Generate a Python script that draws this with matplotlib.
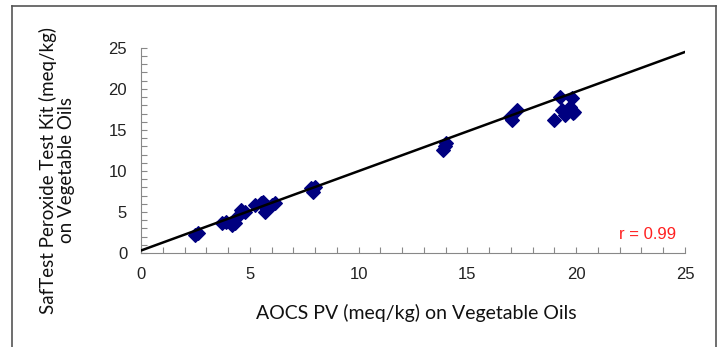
import numpy as np
import matplotlib.pyplot as plt
from matplotlib.lines import Line2D

# AOCS PV vs SafTest readings
aocs_pv = [2.48, 2.6, 3.7, 3.9, 4.2, 4.3, 4.4, 4.6, 4.8,
           5.25, 5.5, 5.6, 5.7, 5.85, 6.0, 6.15,
           7.8, 7.9, 8.0,
           13.9, 14.0, 13.95,
           16.96, 17.05, 17.3,
           19.0, 19.26, 19.35, 19.5, 19.7, 19.8, 19.85, 19.9]
saftest = [2.2, 2.4, 3.6, 3.8, 3.4, 3.7, 4.4, 5.2, 5.0,
           5.8, 6.1, 6.2, 5.0, 5.6, 5.9, 6.1,
           7.9, 7.4, 8.0,
           12.6, 13.4, 13.0,
           16.6, 16.2, 17.4,
           16.2, 19.0, 17.4, 16.8, 17.8, 18.9, 17.1, 17.2]

fit_slope = 0.968
fit_intercept = 0.3
r_value = 0.99

fig = plt.figure(figsize=(7.21, 3.47), dpi=100)
ax = fig.add_axes([0.1956, 0.271, 0.7544, 0.591])

xs = np.array([0, 25])
ax.plot(xs, fit_intercept + fit_slope * xs, color='black', lw=1.8, zorder=3)
ax.scatter(aocs_pv, saftest, marker='D', s=48, color='#000080', zorder=2)

ax.set_xlim(0, 25)
ax.set_ylim(0, 25)
ax.set_xticks([0, 5, 10, 15, 20, 25])
ax.set_yticks([0, 5, 10, 15, 20, 25])
ax.set_xticks(np.arange(0, 26, 1), minor=True)
ax.set_yticks(np.arange(0, 26, 1), minor=True)
for s in ['top', 'right']:
    ax.spines[s].set_visible(False)
for s in ['left', 'bottom']:
    ax.spines[s].set_color('#888888')
ax.tick_params(which='both', direction='in', color='#888888', length=4, width=0.8)
ax.tick_params(which='major', labelsize=12, pad=10, labelcolor='#222222')
for lab in ax.get_xticklabels() + ax.get_yticklabels():
    lab.set_family('Liberation Sans')

fig.text(0.577, 1 - 313/347, 'AOCS PV (meq/kg) on Vegetable Oils', fontsize=14,
         family='Lato', ha='center', va='center', color='#111111')
fig.text(57/721, 1 - 170/347, 'SafTest Peroxide Test Kit (meq/kg)\non Vegetable Oils',
         fontsize=13.5, family='Lato', rotation=90, ha='center', va='center',
         multialignment='center', linespacing=1.1, color='#111111')

ax.text(24.6, 2.3, 'r = %.2f' % r_value, color='#ff2020', fontsize=12, ha='right',
        va='center', family='Liberation Sans')

# outer frame
fc = '#555555'
fig.add_artist(Line2D([12/721, 12/721], [0, 1 - 6/347], color=fc, lw=1.2))
fig.add_artist(Line2D([716/721, 716/721], [0, 1 - 6/347], color=fc, lw=1.2))
fig.add_artist(Line2D([12/721, 716/721], [1 - 6/347, 1 - 6/347], color=fc, lw=1.2))

fig.savefig('out.png', dpi=100)
